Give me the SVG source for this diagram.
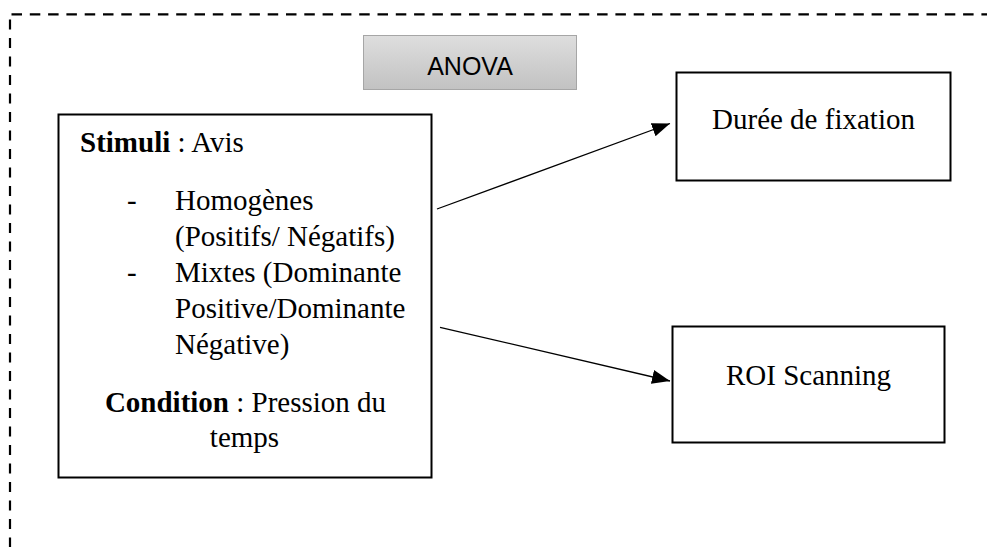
<svg xmlns="http://www.w3.org/2000/svg" width="987" height="547" viewBox="0 0 987 547">
  <style>
    .serif { font-family: "Liberation Serif", "Times New Roman", serif; font-size: 29px; fill: #000; }
    .b { font-weight: bold; }
    .box { fill: #fff; stroke: #000; stroke-width: 2; }
    .dash { fill: none; stroke: #000; stroke-width: 2.2; stroke-dasharray: 10.5 7.8; }
    .conn { fill: none; stroke: #000; stroke-width: 1.3; }
  </style>
  <defs>
    <linearGradient id="gray" x1="0" y1="0" x2="0" y2="1">
      <stop offset="0" stop-color="#dedede"/>
      <stop offset="1" stop-color="#c2c2c2"/>
    </linearGradient>
    <marker id="arrow" markerUnits="userSpaceOnUse" markerWidth="19" markerHeight="15" refX="18" refY="7" orient="auto">
      <path d="M0,0 L18,7 L0,14 z" fill="#000"/>
    </marker>
  </defs>
  <rect width="987" height="547" fill="#fff"/>

  <g id="frame">
    <path class="dash" d="M11.5,14.3 H987"/>
    <path class="dash" d="M10,19.5 V547" style="stroke-dasharray: 10 8.5"/>
  </g>

  <g id="anova">
    <rect x="363.5" y="35.5" width="213" height="54" fill="url(#gray)" stroke="#a6a6a6" stroke-width="1"/>
    <text x="470" y="75" text-anchor="middle" font-family="'Liberation Sans', Arial, sans-serif" font-size="25" fill="#000">ANOVA</text>
  </g>

  <g id="stimuli">
    <rect class="box" x="58.5" y="114.5" width="373" height="363"/>
    <text class="serif" x="80" y="152"><tspan class="b">Stimuli</tspan> : Avis</text>
    <text class="serif" x="127" y="210">-</text>
    <text class="serif" x="175" y="210">Homogènes</text>
    <text class="serif" x="175" y="246">(Positifs/ Négatifs)</text>
    <text class="serif" x="127" y="281.5">-</text>
    <text class="serif" x="175" y="281.5">Mixtes (Dominante</text>
    <text class="serif" x="175" y="317.5">Positive/Dominante</text>
    <text class="serif" x="175" y="353.5">Négative)</text>
    <text class="serif" x="245.5" y="412" text-anchor="middle"><tspan class="b">Condition</tspan> : Pression du</text>
    <text class="serif" x="244.5" y="447" text-anchor="middle">temps</text>
  </g>

  <g id="duree">
    <rect class="box" x="676.5" y="72.5" width="274" height="108"/>
    <text class="serif" x="813.5" y="128.5" text-anchor="middle">Durée de fixation</text>
  </g>

  <g id="roi">
    <rect class="box" x="672.5" y="326.5" width="272" height="116"/>
    <text class="serif" x="808.5" y="385" text-anchor="middle">ROI Scanning</text>
  </g>

  <g id="connectors">
    <line class="conn" x1="437" y1="209" x2="670" y2="123.5" marker-end="url(#arrow)"/>
    <line class="conn" x1="440" y1="327.3" x2="670" y2="381" marker-end="url(#arrow)"/>
  </g>
</svg>
